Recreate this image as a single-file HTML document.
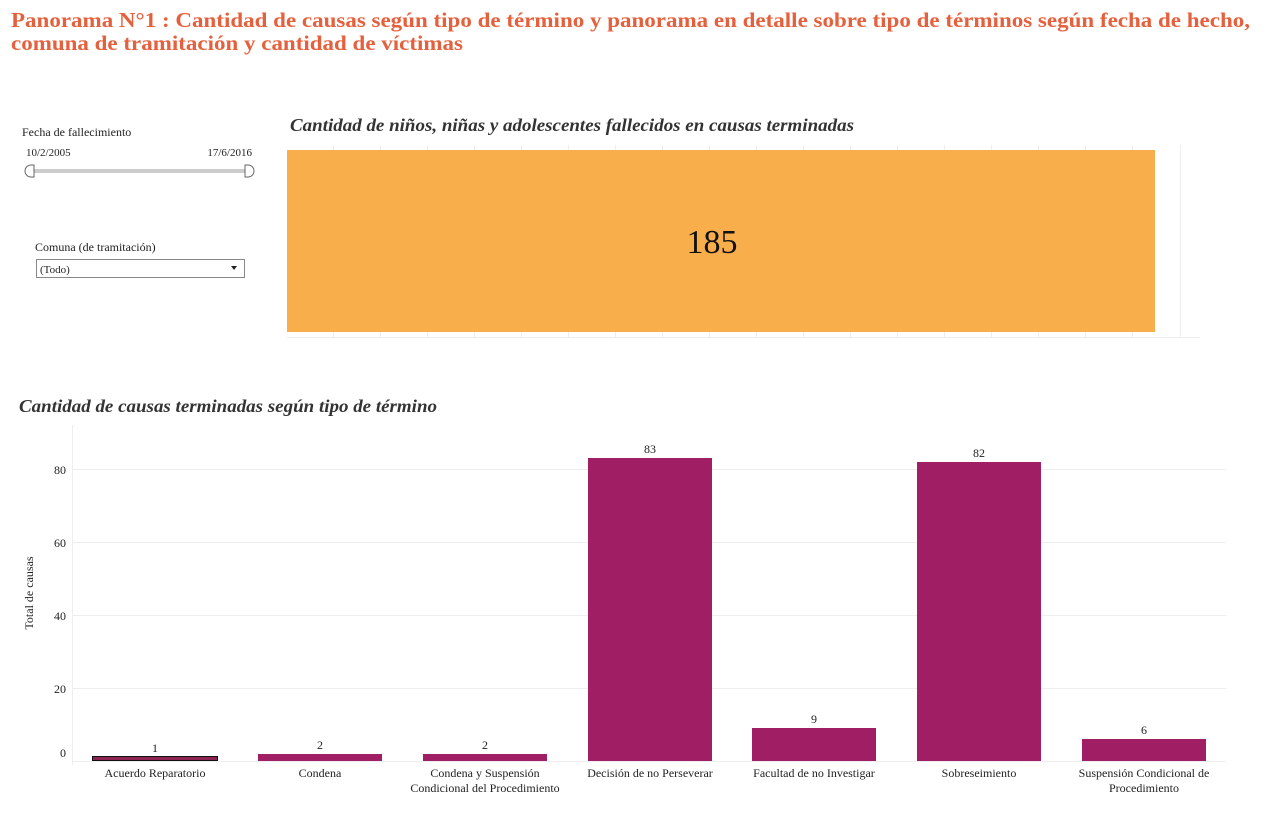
<!DOCTYPE html>
<html><head><meta charset="utf-8"><style>
body{margin:0;background:#fff;}
svg{display:block;font-family:"Liberation Serif",serif;}
</style></head><body>
<svg width="1278" height="828" viewBox="0 0 1278 828">
<g fill="#E5603C" font-weight="bold" font-size="21">
<text x="11" y="27" textLength="1239" lengthAdjust="spacingAndGlyphs">Panorama N°1 : Cantidad de causas según tipo de término y panorama en detalle sobre tipo de términos según fecha de hecho,</text>
<text x="11" y="50" textLength="452" lengthAdjust="spacingAndGlyphs">comuna de tramitación y cantidad de víctimas</text>
</g>
<text x="22" y="136" font-size="12" fill="#222">Fecha de fallecimiento</text>
<text x="26" y="156" font-size="11" fill="#222">10/2/2005</text>
<text x="252" y="156" font-size="11" fill="#222" text-anchor="end">17/6/2016</text>
<rect x="30" y="169" width="218" height="4" fill="#ccc"/>
<path d="M34 165 h-3 a6 6 0 0 0 0 12 h3 z" fill="#fff" stroke="#666"/>
<path d="M245 165 h3 a6 6 0 0 1 0 12 h-3 z" fill="#fff" stroke="#666"/>
<text x="35" y="251" font-size="12" fill="#222">Comuna (de tramitación)</text>
<rect x="36.5" y="259.5" width="208" height="18" fill="#fff" stroke="#888"/>
<text x="40" y="273" font-size="11" fill="#222">(Todo)</text>
<path d="M231 266 h6 l-3 4 z" fill="#222"/>
<text x="290" y="131" font-size="18" font-weight="bold" font-style="italic" fill="#333" textLength="564" lengthAdjust="spacingAndGlyphs">Cantidad de niños, niñas y adolescentes fallecidos en causas terminadas</text>
<g stroke="#eee">
<line x1="287" y1="337.5" x2="1200" y2="337.5"/>
<line x1="1180.5" y1="145" x2="1180.5" y2="337"/>
<line x1="333.5" y1="145" x2="333.5" y2="337"/><line x1="380.5" y1="145" x2="380.5" y2="337"/><line x1="427.5" y1="145" x2="427.5" y2="337"/><line x1="474.5" y1="145" x2="474.5" y2="337"/><line x1="521.5" y1="145" x2="521.5" y2="337"/><line x1="568.5" y1="145" x2="568.5" y2="337"/><line x1="615.5" y1="145" x2="615.5" y2="337"/><line x1="662.5" y1="145" x2="662.5" y2="337"/><line x1="709.5" y1="145" x2="709.5" y2="337"/><line x1="756.5" y1="145" x2="756.5" y2="337"/><line x1="803.5" y1="145" x2="803.5" y2="337"/><line x1="850.5" y1="145" x2="850.5" y2="337"/><line x1="897.5" y1="145" x2="897.5" y2="337"/><line x1="944.5" y1="145" x2="944.5" y2="337"/><line x1="991.5" y1="145" x2="991.5" y2="337"/><line x1="1038.5" y1="145" x2="1038.5" y2="337"/><line x1="1085.5" y1="145" x2="1085.5" y2="337"/><line x1="1132.5" y1="145" x2="1132.5" y2="337"/>
</g>
<rect x="287" y="150" width="868" height="182" fill="#F9AE4C"/>
<text x="712" y="253" font-size="34" text-anchor="middle" fill="#111">185</text>
<text x="19" y="412" font-size="18" font-weight="bold" font-style="italic" fill="#333" textLength="418" lengthAdjust="spacingAndGlyphs">Cantidad de causas terminadas según tipo de término</text>
<g stroke="#eee">
<line x1="72" y1="469.5" x2="1226" y2="469.5"/>
<line x1="72" y1="542.5" x2="1226" y2="542.5"/>
<line x1="72" y1="615.5" x2="1226" y2="615.5"/>
<line x1="72" y1="688.5" x2="1226" y2="688.5"/>
<line x1="72" y1="761.5" x2="1226" y2="761.5"/>
<line x1="72.5" y1="425" x2="72.5" y2="765"/>
</g>
<g font-size="12" fill="#222" text-anchor="end">
<text x="66" y="474">80</text><text x="66" y="547">60</text><text x="66" y="620">40</text><text x="66" y="693">20</text><text x="66" y="757">0</text>
</g>
<text transform="translate(33,593) rotate(-90)" font-size="12" fill="#222" text-anchor="middle">Total de causas</text>
<g fill="#A01E63">
<rect x="92.5" y="756.5" width="125" height="4" fill="#8B2252" stroke="#111"/>
<rect x="258" y="754" width="124" height="7"/>
<rect x="423" y="754" width="124" height="7"/>
<rect x="588" y="458" width="124" height="303"/>
<rect x="752" y="728" width="124" height="33"/>
<rect x="917" y="462" width="124" height="299"/>
<rect x="1082" y="739" width="124" height="22"/>
</g>
<g font-size="12" fill="#222" text-anchor="middle">
<text x="155" y="752">1</text><text x="320" y="749">2</text><text x="485" y="749">2</text><text x="650" y="453">83</text><text x="814" y="723">9</text><text x="979" y="457">82</text><text x="1144" y="734">6</text>
<text x="155" y="777">Acuerdo Reparatorio</text>
<text x="320" y="777">Condena</text>
<text x="485" y="777">Condena y Suspensión</text><text x="485" y="792">Condicional del Procedimiento</text>
<text x="650" y="777">Decisión de no Perseverar</text>
<text x="814" y="777">Facultad de no Investigar</text>
<text x="979" y="777">Sobreseimiento</text>
<text x="1144" y="777">Suspensión Condicional de</text><text x="1144" y="792">Procedimiento</text>
</g>
</svg>
</body></html>
